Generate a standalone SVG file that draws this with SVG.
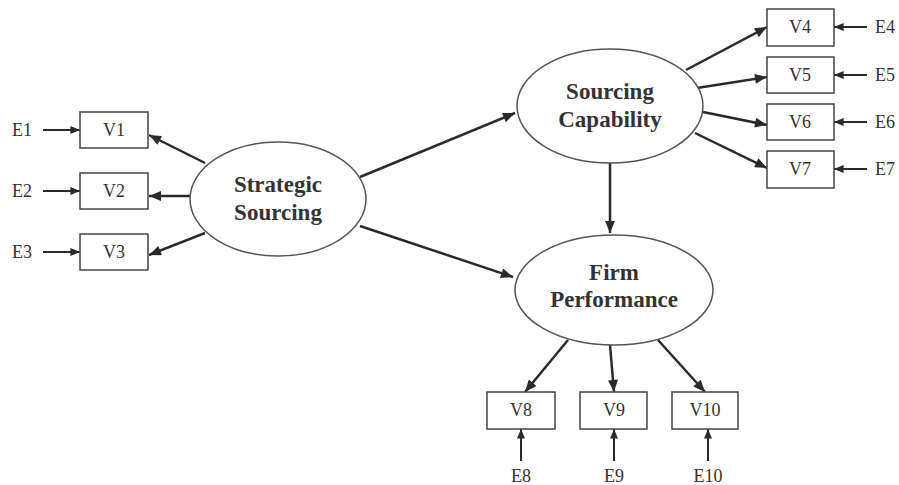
<svg xmlns="http://www.w3.org/2000/svg" width="899" height="485" viewBox="0 0 899 485">
<style>
.box{fill:#fff;stroke:#444;stroke-width:1.5}
.ell{fill:#fff;stroke:#555;stroke-width:1.5}
.lbl{font-family:"Liberation Serif",serif;font-size:18px;fill:#333;text-anchor:middle;dominant-baseline:central}
.big{font-family:"Liberation Serif",serif;font-size:23px;font-weight:bold;fill:#333;text-anchor:middle}
.ln{stroke:#2a2a2a;stroke-width:2.5;fill:none;marker-end:url(#ah)}
.ln2{stroke:#2a2a2a;stroke-width:2;fill:none;marker-end:url(#ah)}
</style>
<defs>
<marker id="ah" viewBox="0 0 12 10" refX="12" refY="5" markerWidth="5.5" markerHeight="4" orient="auto" markerUnits="strokeWidth"><path d="M0,0 L12,5 L0,10 z" fill="#2a2a2a"/></marker>
</defs>
<rect width="899" height="485" fill="#fff"/>
<g id="connectors">
<line class="ln" x1="205" y1="163" x2="149" y2="135"/>
<line class="ln" x1="190" y1="196" x2="149" y2="196"/>
<line class="ln" x1="205" y1="233" x2="149" y2="255"/>
<line class="ln" x1="360" y1="177" x2="515" y2="113"/>
<line class="ln" x1="360" y1="226" x2="513" y2="277"/>
<line class="ln" x1="610" y1="163" x2="610" y2="233"/>
<line class="ln" x1="686" y1="70" x2="767" y2="27"/>
<line class="ln" x1="697" y1="88" x2="767" y2="77"/>
<line class="ln" x1="703" y1="112" x2="767" y2="125"/>
<line class="ln" x1="695" y1="133" x2="767" y2="168"/>
<line class="ln" x1="568" y1="340" x2="525" y2="392"/>
<line class="ln" x1="610" y1="345" x2="614" y2="392"/>
<line class="ln" x1="658" y1="340" x2="705" y2="392"/>
<line class="ln2" x1="43" y1="130" x2="80" y2="130"/>
<line class="ln2" x1="43" y1="191" x2="80" y2="191"/>
<line class="ln2" x1="43" y1="252" x2="80" y2="252"/>
<line class="ln2" x1="867" y1="27" x2="834" y2="27"/>
<line class="ln2" x1="867" y1="75" x2="834" y2="75"/>
<line class="ln2" x1="867" y1="122" x2="834" y2="122"/>
<line class="ln2" x1="867" y1="169" x2="834" y2="169"/>
<line class="ln2" x1="521" y1="461" x2="521" y2="429"/>
<line class="ln2" x1="614" y1="461" x2="614" y2="429"/>
<line class="ln2" x1="708" y1="461" x2="708" y2="429"/>
</g>
<g id="SS"><ellipse class="ell" cx="278" cy="199" rx="88" ry="57"/><text class="big" x="278" y="192">Strategic</text><text class="big" x="278" y="220">Sourcing</text></g>
<g id="SC"><ellipse class="ell" cx="610" cy="106" rx="93" ry="57"/><text class="big" x="610" y="99">Sourcing</text><text class="big" x="610" y="127">Capability</text></g>
<g id="FP"><ellipse class="ell" cx="614" cy="290" rx="99" ry="55"/><text class="big" x="614" y="280">Firm</text><text class="big" x="614" y="307">Performance</text></g>
<g id="V1"><rect class="box" x="80" y="112" width="68" height="36"/><text class="lbl" x="114" y="130">V1</text></g>
<g id="V2"><rect class="box" x="80" y="173" width="68" height="36"/><text class="lbl" x="114" y="191">V2</text></g>
<g id="V3"><rect class="box" x="80" y="234" width="68" height="36"/><text class="lbl" x="114" y="252">V3</text></g>
<g id="V4"><rect class="box" x="767" y="9" width="67" height="37"/><text class="lbl" x="800" y="27">V4</text></g>
<g id="V5"><rect class="box" x="767" y="57" width="67" height="36"/><text class="lbl" x="800" y="75">V5</text></g>
<g id="V6"><rect class="box" x="767" y="104" width="67" height="36"/><text class="lbl" x="800" y="122">V6</text></g>
<g id="V7"><rect class="box" x="767" y="151" width="67" height="37"/><text class="lbl" x="800" y="169">V7</text></g>
<g id="V8"><rect class="box" x="487" y="392" width="68" height="37"/><text class="lbl" x="521" y="410">V8</text></g>
<g id="V9"><rect class="box" x="580" y="392" width="67" height="37"/><text class="lbl" x="614" y="410">V9</text></g>
<g id="V10"><rect class="box" x="672" y="392" width="66" height="37"/><text class="lbl" x="705" y="410">V10</text></g>
<g id="E1"><text class="lbl" x="22" y="130">E1</text></g>
<g id="E2"><text class="lbl" x="22" y="191">E2</text></g>
<g id="E3"><text class="lbl" x="22" y="252">E3</text></g>
<g id="E4"><text class="lbl" x="885" y="27">E4</text></g>
<g id="E5"><text class="lbl" x="885" y="75">E5</text></g>
<g id="E6"><text class="lbl" x="885" y="122">E6</text></g>
<g id="E7"><text class="lbl" x="885" y="169">E7</text></g>
<g id="E8"><text class="lbl" x="521" y="476">E8</text></g>
<g id="E9"><text class="lbl" x="614" y="476">E9</text></g>
<g id="E10"><text class="lbl" x="708" y="476">E10</text></g>
</svg>
